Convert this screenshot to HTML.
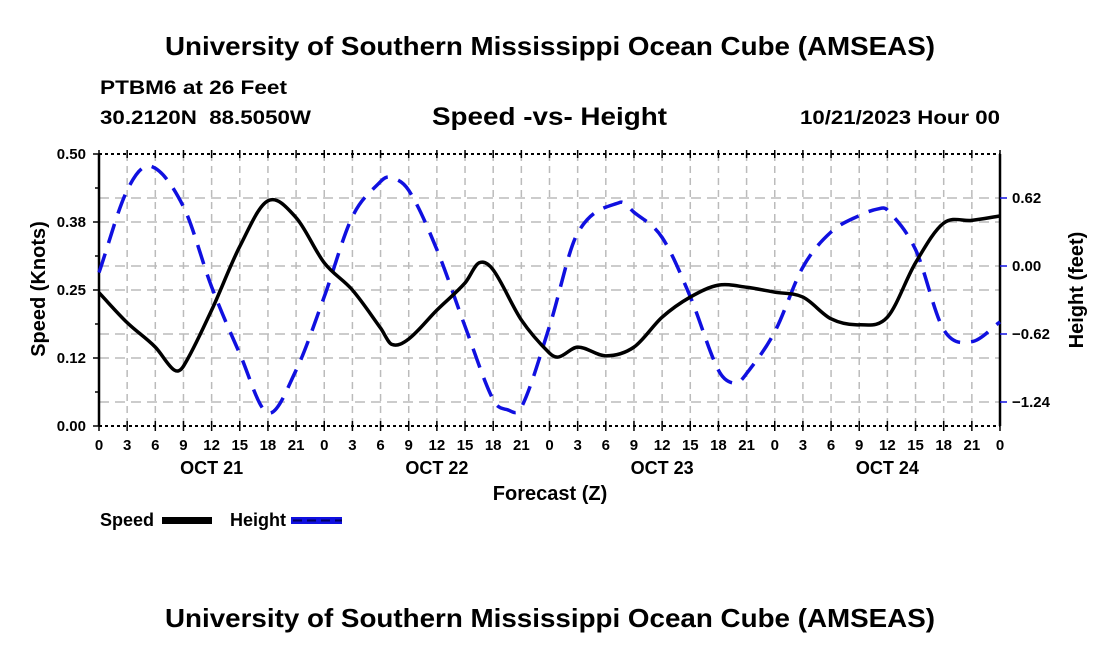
<!DOCTYPE html>
<html><head><meta charset="utf-8"><style>
body{margin:0;background:#fff;width:1100px;height:650px;overflow:hidden;font-family:"Liberation Sans",Arial,sans-serif;}
svg text{font-family:"Liberation Sans",Arial,sans-serif;font-weight:bold;fill:#000;}
</style></head><body>
<svg id="chart" width="1100" height="650" viewBox="0 0 1100 650" xmlns="http://www.w3.org/2000/svg">
<rect width="1100" height="650" fill="#fff"/>
<text x="165" y="55" font-size="26" textLength="770" lengthAdjust="spacingAndGlyphs">University of Southern Mississippi Ocean Cube (AMSEAS)</text>
<text x="100" y="94" font-size="19" textLength="187" lengthAdjust="spacingAndGlyphs">PTBM6 at 26 Feet</text>
<text x="100" y="124" font-size="19" textLength="211" lengthAdjust="spacingAndGlyphs" xml:space="preserve">30.2120N  88.5050W</text>
<text x="432" y="125" font-size="25" textLength="235" lengthAdjust="spacingAndGlyphs">Speed -vs- Height</text>
<text x="800" y="124" font-size="19" textLength="200" lengthAdjust="spacingAndGlyphs">10/21/2023 Hour 00</text>
<g id="grid"></g>
<g id="axes"></g>
<g id="series"></g>
<text transform="translate(45,289) rotate(-90)" font-size="20" text-anchor="middle">Speed (Knots)</text>
<text transform="translate(1083,290) rotate(-90)" font-size="20" text-anchor="middle">Height (feet)</text>
<text x="550" y="500" font-size="20" text-anchor="middle">Forecast (Z)</text>
<g>
<g>
<text x="100" y="526" font-size="18">Speed</text>
<rect x="162" y="517" width="50" height="7" fill="#000"/>
</g>
<g>
<text x="230" y="526" font-size="18">Height</text>
<rect x="291" y="517" width="51" height="7" fill="#1010e0"/>
<line x1="293" y1="520.5" x2="342" y2="520.5" stroke="#000060" stroke-width="2" stroke-dasharray="9,5"/>
</g>
</g>
<text x="165" y="627" font-size="26" textLength="770" lengthAdjust="spacingAndGlyphs">University of Southern Mississippi Ocean Cube (AMSEAS)</text>
</svg>
<script>
const speedHours=[0,3,6,8,9,12,15,18,21,24,27,30,31.2,33,36,39,40.5,42,45,48,49,51,54,57,60,63,66,69,72,75,78,81,84,87,90,93,96];
const speedValues=[.245,.19,.145,.103,.11,.213,.33,.414,.383,.30,.25,.18,.15,.16,.213,.263,.30,.287,.195,.134,.127,.145,.129,.145,.2,.237,.259,.255,.246,.237,.197,.186,.20,.30,.373,.378,.386];
const heightHours=[0,3,5.5,9,12,15,18,21,24,27,30,31,33,36,39,42,43.5,45,48,51,55.5,57,60,63,66,67.8,69,72,75,78,81,83,84,87,90,93,96];
const heightValues=[-0.06,0.69,0.91,0.54,-0.19,-0.8,-1.34,-0.95,-0.28,0.45,0.77,0.81,0.69,0.15,-0.55,-1.22,-1.31,-1.29,-0.55,0.3,0.58,0.49,0.26,-0.28,-0.95,-1.07,-0.98,-0.6,-0.01,0.31,0.46,0.52,0.51,0.15,-0.58,-0.69,-0.51];
const speedTicks=[0,0.125,0.25,0.375,0.5];
const speedTickLabels=["0.00","0.12","0.25","0.38","0.50"];
const heightTicks=[-1.24,-0.62,0,0.62];
const heightTickLabels=["\u22121.24","\u22120.62","0.00","0.62"];
const dayLabels=["OCT 21","OCT 22","OCT 23","OCT 24"];

const X0=99,X1=1000,Y0=426,Y1=154;
const xs=h=>X0+(X1-X0)*h/96;
const ys=v=>Y0-(Y0-Y1)*v/0.5;
const yh=v=>266-v*(68/0.62);
const NS='http://www.w3.org/2000/svg';
function mk(tag,attrs,parent){const e=document.createElementNS(NS,tag);for(const k in attrs)e.setAttribute(k,attrs[k]);parent.appendChild(e);return e;}
const grid=document.getElementById('grid'),axes=document.getElementById('axes'),series=document.getElementById('series');

for(let h=3;h<96;h+=3){const l=mk('line',{x1:xs(h),x2:xs(h),y1:Y1,y2:Y0,stroke:'#bbb','stroke-width':1.5,'stroke-dasharray':'7,5'},grid);

}
speedTicks.slice(1,4).forEach(v=>{const l=mk('line',{x1:X0,x2:X1,y1:ys(v),y2:ys(v),stroke:'#bbb','stroke-width':1.5,'stroke-dasharray':'10,6'},grid);

});
heightTicks.forEach(v=>{const l=mk('line',{x1:X0,x2:X1,y1:yh(v),y2:yh(v),stroke:'#bbb','stroke-width':1.5,'stroke-dasharray':'10,6'},grid);

});

mk('line',{x1:X0,x2:X0,y1:Y1,y2:Y0,stroke:'#000','stroke-width':2.5},axes);
mk('line',{x1:X1,x2:X1,y1:Y1,y2:Y0,stroke:'#000','stroke-width':2.5},axes);
mk('line',{x1:X0,x2:X1,y1:Y1,y2:Y1,stroke:'#000','stroke-width':2,'stroke-dasharray':'3,3'},axes);
mk('line',{x1:X0,x2:X1,y1:Y0,y2:Y0,stroke:'#000','stroke-width':2,'stroke-dasharray':'3,3'},axes);
speedTicks.forEach((v,i)=>{
 mk('line',{x1:X0-6,x2:X0,y1:ys(v),y2:ys(v),stroke:'#000','stroke-width':1.5},axes);
 const t=mk('text',{x:X0-13,y:ys(v)+5,'font-size':15,'text-anchor':'end'},axes);t.textContent=speedTickLabels[i];
 
 
});
[0.0625,0.1875,0.3125,0.4375].forEach(v=>mk('line',{x1:X0-4,x2:X0,y1:ys(v),y2:ys(v),stroke:'#000','stroke-width':1.5},axes));
heightTicks.forEach((v,i)=>{
 mk('line',{x1:X1,x2:X1+7,y1:yh(v),y2:yh(v),stroke:'#1010e0','stroke-width':1.5},axes);
 const t=mk('text',{x:X1+12,y:yh(v)+5,'font-size':15},axes);t.textContent=heightTickLabels[i];
 
 
});
for(let h=0;h<=96;h+=3){
 mk('line',{x1:xs(h),x2:xs(h),y1:Y0-5,y2:Y0+5,stroke:'#000','stroke-width':1.5},axes);
 mk('line',{x1:xs(h),x2:xs(h),y1:Y1-4,y2:Y1+4,stroke:'#000','stroke-width':1.5},axes);
 const t=mk('text',{x:xs(h),y:450,'font-size':15,'text-anchor':'middle'},axes);t.textContent=String(h%24);
 
 
}
dayLabels.forEach((d,i)=>{const t=mk('text',{x:xs(12+24*i),y:474,'font-size':18,'text-anchor':'middle'},axes);t.textContent=d;
 
 });

function smooth(pts){
 const n=pts.length,m=[];
 for(let i=0;i<n;i++){
  const a=pts[Math.max(0,i-1)],b=pts[Math.min(n-1,i+1)];
  m.push((b[1]-a[1])/(b[0]-a[0]));
 }
 let d='M'+pts[0][0]+','+pts[0][1];
 for(let i=0;i<n-1;i++){
  const p1=pts[i],p2=pts[i+1],dx=(p2[0]-p1[0])/3;
  d+=' C'+(p1[0]+dx)+','+(p1[1]+m[i]*dx)+' '+(p2[0]-dx)+','+(p2[1]-m[i+1]*dx)+' '+p2[0]+','+p2[1];
 }
 return d;
}
const hp=mk('path',{d:smooth(heightHours.map((h,i)=>[xs(h),yh(heightValues[i])])),fill:'none',stroke:'#1010e0','stroke-width':3.5,'stroke-dasharray':'20,11'},series);


const sp=mk('path',{d:smooth(speedHours.map((h,i)=>[xs(h),ys(speedValues[i])])),fill:'none',stroke:'#000','stroke-width':3.5},series);


</script>
</body></html>
